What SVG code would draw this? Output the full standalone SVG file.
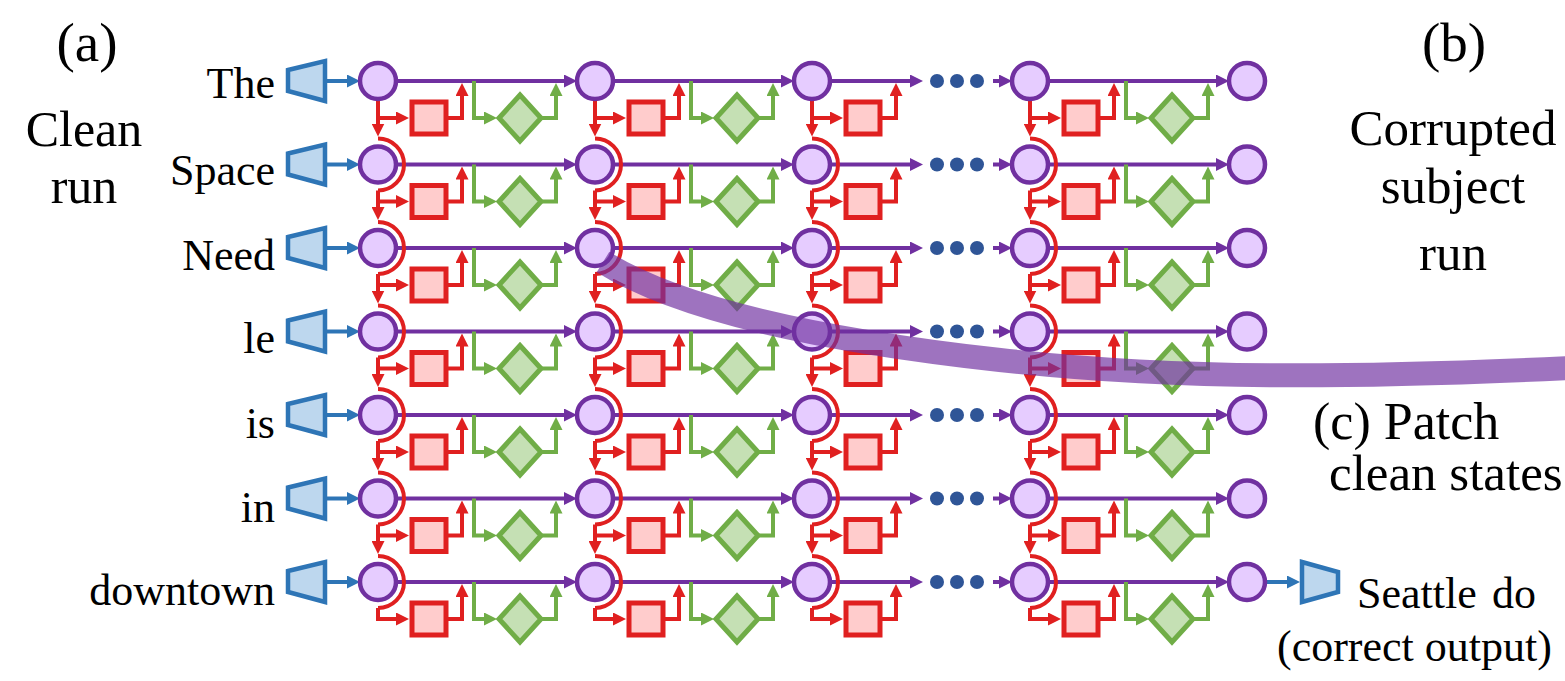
<svg xmlns="http://www.w3.org/2000/svg" xmlns:xlink="http://www.w3.org/1999/xlink" width="1565" height="681" viewBox="0 0 1565 681">
<style>
.node{fill:#e6ccff;stroke:#7030a0;stroke-width:4.5}
.pl{fill:none;stroke:#7030a0;stroke-width:4}
.rl{fill:none;stroke:#e02020;stroke-width:4}
.gl{fill:none;stroke:#70ad47;stroke-width:4}
.bl{fill:none;stroke:#2e75b6;stroke-width:4}
.sq{fill:#ffcccc;stroke:#e02020;stroke-width:5}
.dm{fill:#c5e0b4;stroke:#70ad47;stroke-width:5}
.tz{fill:#bdd7ee;stroke:#2e75b6;stroke-width:4.5;stroke-linejoin:miter}
.dot{fill:#2f5597}
</style>
<defs>
<marker id="aP" viewBox="0 0 13 13" refX="5" refY="6.5" markerWidth="13" markerHeight="13" orient="auto" markerUnits="userSpaceOnUse"><path d="M0,0L13,6.5L0,13z" fill="#7030a0"/></marker>
<marker id="aR" viewBox="0 0 13 13" refX="5" refY="6.5" markerWidth="13" markerHeight="13" orient="auto" markerUnits="userSpaceOnUse"><path d="M0,0L13,6.5L0,13z" fill="#e02020"/></marker>
<marker id="aG" viewBox="0 0 13 13" refX="5" refY="6.5" markerWidth="13" markerHeight="13" orient="auto" markerUnits="userSpaceOnUse"><path d="M0,0L13,6.5L0,13z" fill="#70ad47"/></marker>
<marker id="aB" viewBox="0 0 13 13" refX="5" refY="6.5" markerWidth="13" markerHeight="13" orient="auto" markerUnits="userSpaceOnUse"><path d="M0,0L13,6.5L0,13z" fill="#2e75b6"/></marker>
<circle id="node" r="18" class="node"/>
<path id="arc" d="M0,-26A26,26 0 0 1 0,26" class="rl" stroke-width="4.5"/>
<path id="downTop" d="M0,18V47.5" class="rl" marker-end="url(#aR)"/>
<path id="downMid" d="M0,26V47.5" class="rl" marker-end="url(#aR)"/>
<path id="downEnd" d="M0,26V39" class="rl"/>
<g id="redunit">
<path d="M-2,37H23" class="rl" marker-end="url(#aR)"/>
<rect x="34" y="21" width="34" height="32" class="sq"/>
<path d="M70,37H84V10" class="rl" marker-end="url(#aR)"/>
</g>
<g id="greenunit">
<path d="M96,0V37H111" class="gl" marker-end="url(#aG)"/>
<path d="M142,14L163,37L142,60L121,37Z" class="dm"/>
<path d="M163,37H178V10" class="gl" marker-end="url(#aG)"/>
</g>
<g id="cellA">
<path d="M18,0H191" class="pl" marker-end="url(#aP)"/>
<use xlink:href="#redunit" href="#redunit"/>
<use xlink:href="#greenunit" href="#greenunit"/>
</g>
<g id="cellB">
<path d="M18,0H103" class="pl" marker-end="url(#aP)"/>
<use xlink:href="#redunit" href="#redunit"/>
<circle cx="125" cy="0" r="7" class="dot"/>
<circle cx="145" cy="0" r="7" class="dot"/>
<circle cx="165" cy="0" r="7" class="dot"/>
<path d="M181,0H192" class="pl" marker-end="url(#aP)"/>
</g>
<g id="inp">
<path d="M288,-11L325,-20V20L288,10Z" class="tz"/>
<path d="M327,0H352" class="bl" marker-end="url(#aB)"/>
</g>
<g id="rowA">
<use xlink:href="#inp" href="#inp"/>
<use xlink:href="#cellA" href="#cellA" x="378"/>
<use xlink:href="#cellA" href="#cellA" x="595"/>
<use xlink:href="#cellB" href="#cellB" x="812"/>
<use xlink:href="#cellA" href="#cellA" x="1030"/>
</g>
<g id="nodesRow">
<use xlink:href="#node" href="#node" x="378"/>
<use xlink:href="#node" href="#node" x="595"/>
<use xlink:href="#node" href="#node" x="812"/>
<use xlink:href="#node" href="#node" x="1030"/>
<use xlink:href="#node" href="#node" x="1247"/>
</g>
<g id="arcsRow">
<use xlink:href="#arc" href="#arc" x="378"/>
<use xlink:href="#arc" href="#arc" x="595"/>
<use xlink:href="#arc" href="#arc" x="812"/>
<use xlink:href="#arc" href="#arc" x="1030"/>
</g>
<g id="downTopRow">
<use xlink:href="#downTop" href="#downTop" x="378"/>
<use xlink:href="#downTop" href="#downTop" x="595"/>
<use xlink:href="#downTop" href="#downTop" x="812"/>
<use xlink:href="#downTop" href="#downTop" x="1030"/>
</g>
<g id="downMidRow">
<use xlink:href="#downMid" href="#downMid" x="378"/>
<use xlink:href="#downMid" href="#downMid" x="595"/>
<use xlink:href="#downMid" href="#downMid" x="812"/>
<use xlink:href="#downMid" href="#downMid" x="1030"/>
</g>
<g id="downEndRow">
<use xlink:href="#downEnd" href="#downEnd" x="378"/>
<use xlink:href="#downEnd" href="#downEnd" x="595"/>
<use xlink:href="#downEnd" href="#downEnd" x="812"/>
<use xlink:href="#downEnd" href="#downEnd" x="1030"/>
</g>
</defs>

<g id="connectors">
<g transform="translate(0,81)"><use xlink:href="#rowA" href="#rowA"/><use xlink:href="#downTopRow" href="#downTopRow"/></g>
<g transform="translate(0,164.5)"><use xlink:href="#rowA" href="#rowA"/><use xlink:href="#arcsRow" href="#arcsRow"/><use xlink:href="#downMidRow" href="#downMidRow"/></g>
<g transform="translate(0,248)"><use xlink:href="#rowA" href="#rowA"/><use xlink:href="#arcsRow" href="#arcsRow"/><use xlink:href="#downMidRow" href="#downMidRow"/></g>
<g transform="translate(0,331.5)"><use xlink:href="#rowA" href="#rowA"/><use xlink:href="#arcsRow" href="#arcsRow"/><use xlink:href="#downMidRow" href="#downMidRow"/></g>
<g transform="translate(0,415)"><use xlink:href="#rowA" href="#rowA"/><use xlink:href="#arcsRow" href="#arcsRow"/><use xlink:href="#downMidRow" href="#downMidRow"/></g>
<g transform="translate(0,498.5)"><use xlink:href="#rowA" href="#rowA"/><use xlink:href="#arcsRow" href="#arcsRow"/><use xlink:href="#downMidRow" href="#downMidRow"/></g>
<g transform="translate(0,582)"><use xlink:href="#rowA" href="#rowA"/><use xlink:href="#arcsRow" href="#arcsRow"/><use xlink:href="#downEndRow" href="#downEndRow"/>
<path d="M1265,0H1292" class="bl" marker-end="url(#aB)"/>
</g>
</g>

<g id="nodes">
<g id="row-The" transform="translate(0,81)"><use xlink:href="#nodesRow" href="#nodesRow"/></g>
<g id="row-Space" transform="translate(0,164.5)"><use xlink:href="#nodesRow" href="#nodesRow"/></g>
<g id="row-Need" transform="translate(0,248)"><use xlink:href="#nodesRow" href="#nodesRow"/></g>
<g id="row-le" transform="translate(0,331.5)"><use xlink:href="#nodesRow" href="#nodesRow"/></g>
<g id="row-is" transform="translate(0,415)"><use xlink:href="#nodesRow" href="#nodesRow"/></g>
<g id="row-in" transform="translate(0,498.5)"><use xlink:href="#nodesRow" href="#nodesRow"/></g>
<g id="row-downtown" transform="translate(0,582)"><use xlink:href="#nodesRow" href="#nodesRow"/></g>
<g id="output"><path d="M1302,562L1338,572V592L1302,602Z" class="tz"/></g>
</g>

<g id="labels" font-family="'Liberation Serif','Times New Roman',serif" fill="#000">
<text x="87" y="61" font-size="55" text-anchor="middle">(a)</text>
<text x="84" y="146" font-size="50" text-anchor="middle">Clean</text>
<text x="84" y="203" font-size="50" text-anchor="middle">run</text>
<g font-size="44" text-anchor="end">
<text x="275" y="98">The</text>
<text x="275" y="185">Space</text>
<text x="275" y="270">Need</text>
<text x="275" y="353">le</text>
<text x="275" y="438">is</text>
<text x="275" y="522">in</text>
<text x="275" y="605">downtown</text>
</g>
<text x="1454" y="61" font-size="55" text-anchor="middle">(b)</text>
<text x="1453" y="145" font-size="51" text-anchor="middle">Corrupted</text>
<text x="1453" y="203" font-size="51" text-anchor="middle">subject</text>
<text x="1453" y="270" font-size="51" text-anchor="middle">run</text>
<text x="1313" y="439" font-size="52">(c) Patch</text>
<text x="1329" y="490" font-size="51">clean states</text>
<text x="1357" y="608" font-size="44">Seattle</text>
<text x="1492" y="608" font-size="44">do</text>
<text x="1277" y="661" font-size="44">(correct output)</text>
</g>

<g id="patch">
<path d="M603,262C680,310 820,340 1000,360S1350,378 1570,368" fill="none" stroke="#7030a0" stroke-width="24" stroke-opacity="0.68"/>
</g>
</svg>
